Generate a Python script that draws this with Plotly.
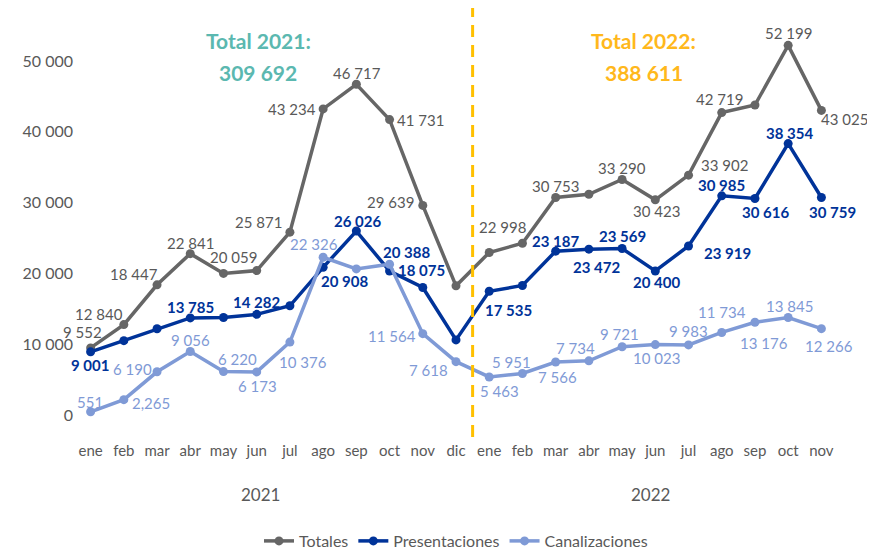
import plotly.graph_objects as go

months = ["ene", "feb", "mar", "abr", "may", "jun", "jul", "ago", "sep", "oct", "nov", "dic",
          "ene", "feb", "mar", "abr", "may", "jun", "jul", "ago", "sep", "oct", "nov"]
years = ["2021", "2022"]

totales = [9552, 12840, 18447, 22841, 20059, 20455, 25871, 43234, 46717, 41731, 29639, 18306,
           22998, 24304, 30753, 31206, 33290, 30423, 33902, 42719, 43792, 52199, 43025]
presentaciones = [9001, 10575, 12257, 13785, 13839, 14282, 15495, 20908, 26026, 20388, 18075, 10688,
                  17535, 18353, 23187, 23472, 23569, 20400, 23919, 30985, 30616, 38354, 30759]
canalizaciones = [551, 2265, 6190, 9056, 6220, 6173, 10376, 22326, 20691, 21343, 11564, 7618,
                  5463, 5951, 7566, 7734, 9721, 10023, 9983, 11734, 13176, 13845, 12266]

total_2021 = "309 692"
total_2022 = "388 611"

x = list(range(len(months)))

# label placement: index -> (xshift, yshift) in pixels
tot_lab = {0: (-8, 16), 1: (-25, 11), 2: (-23, 11), 3: (0, 11), 4: (10, 16), 6: (-31, 10),
           7: (-31, 0), 8: (1, 11), 9: (31, 0), 10: (-32, 3), 12: (13, 26), 14: (0, 12),
           16: (0, 12), 17: (1, -11), 18: (36, 10), 19: (-2, 14), 21: (0, 12), 22: (23, -9)}
pre_lab = {0: (-1, -13), 3: (0, 11), 5: (0, 12), 7: (21, -14), 8: (1, 10), 9: (17, 19),
           10: (-1, 17), 12: (19, -19), 14: (0, 10), 15: (8, -18), 16: (0, 12), 17: (1, -11),
           18: (39, -7), 19: (0, 11), 20: (11, -14), 21: (1, 11), 22: (11, -15)}
can_lab = {0: (-1, 10), 1: (27, -3), 2: (-25, 3), 3: (0, 11), 4: (14, 13), 5: (1, -14),
           6: (13, -20), 7: (-9, 13), 10: (-31, -2), 11: (-28, -8), 12: (10, -14),
           13: (-11, 11), 14: (2, -15), 15: (-13, 13), 16: (-3, 13), 17: (1, -13),
           18: (0, 14), 19: (0, 20), 20: (9, -21), 21: (1, 11), 22: (8, -17)}

C_TOT = "#666666"
C_PRE = "#003399"
C_CAN = "#7f9ad6"
FONT = "Lato"


def fmt(v):
    return f"{v:,}".replace(",", " ")


fig = go.Figure()
for name, vals, col in [("Totales", totales, C_TOT),
                        ("Presentaciones", presentaciones, C_PRE),
                        ("Canalizaciones", canalizaciones, C_CAN)]:
    fig.add_trace(go.Scatter(x=x, y=vals, name=name, mode="lines+markers",
                             line=dict(color=col, width=3.5),
                             marker=dict(color=col, size=9)))

annotations = []
for vals, placement, col, bold in [(totales, tot_lab, "#595959", False),
                                   (presentaciones, pre_lab, C_PRE, True),
                                   (canalizaciones, can_lab, C_CAN, False)]:
    for i, (dx, dy) in placement.items():
        txt = fmt(vals[i])
        if vals is canalizaciones and i == 1:
            txt = f"{vals[i]:,}"
        if bold:
            txt = f"<b>{txt}</b>"
        annotations.append(dict(x=x[i], y=vals[i], text=txt, showarrow=False,
                                xshift=dx, yshift=dy, xanchor="center", yanchor="middle",
                                font=dict(family=FONT, size=15, color=col)))

# totals per year
for xc, label, val, col in [(5.05, years[0], total_2021, "#5bb8b0"),
                            (16.65, years[1], total_2022, "#ffb81c")]:
    annotations.append(dict(x=xc, y=1.0, yref="paper", yshift=-32, yanchor="middle",
                            text=f"<b>Total {label}:</b>", showarrow=False,
                            font=dict(family=FONT, size=21, color=col)))
    annotations.append(dict(x=xc, y=1.0, yref="paper", yshift=-64, yanchor="middle",
                            text=f"<b>{val}</b>", showarrow=False,
                            font=dict(family=FONT, size=21, color=col)))

for xc, label in [(5.1, years[0]), (16.85, years[1])]:
    annotations.append(dict(x=xc, y=-0.135, yref="paper", yanchor="middle", text=label,
                            showarrow=False, font=dict(family=FONT, size=17, color="#595959")))

fig.add_shape(type="line", x0=11.5, x1=11.5, y0=0, y1=1, yref="paper",
              line=dict(color="#ffc000", width=3, dash="12px,8px"))

fig.update_layout(
    width=867, height=544,
    margin=dict(l=66, r=37, t=0, b=115, autoexpand=False),
    paper_bgcolor="white", plot_bgcolor="white",
    separators=". ",
    font=dict(family=FONT, color="#595959"),
    showlegend=True,
    legend=dict(orientation="h", x=0.5, xanchor="center", y=-0.2424, yanchor="middle",
                font=dict(family=FONT, size=16, color="#595959"), itemwidth=30),
    annotations=annotations,
    xaxis=dict(range=[-0.5, 22.5], tickmode="array", tickvals=x, ticktext=months,
               showgrid=False, zeroline=False, showline=False, ticks="",
               ticklabelstandoff=3,
               tickfont=dict(family=FONT, size=15, color="#595959")),
    yaxis=dict(range=[-3000, 57460], tickvals=[0, 10000, 20000, 30000, 40000, 50000],
               tickformat=",d", showgrid=False, zeroline=False, showline=False,
               tickfont=dict(family=FONT, size=16, color="#595959")),
)

fig.write_html("out.html")
